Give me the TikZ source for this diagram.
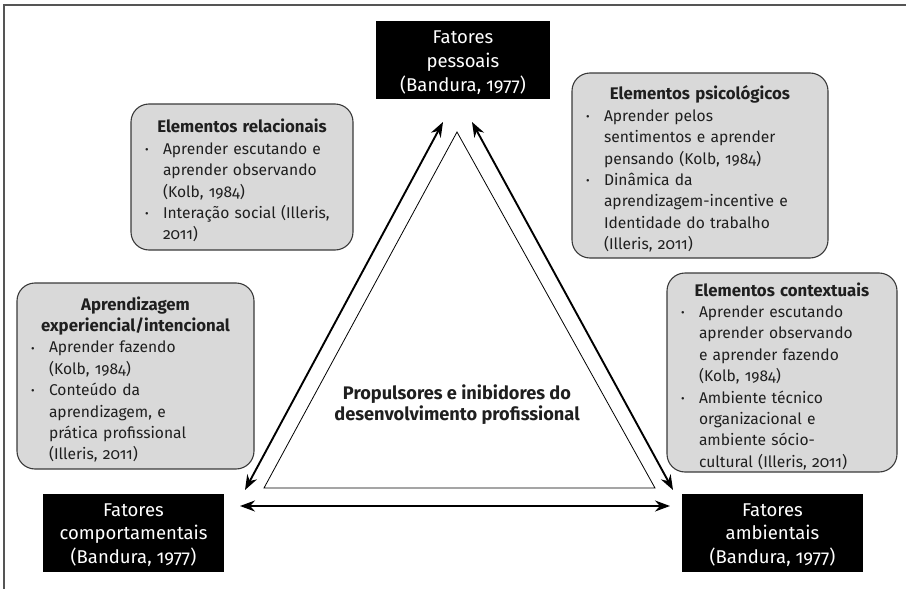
\documentclass[tikz,border=0pt]{standalone}
\usepackage{fontspec}
\setmainfont{Fira Sans}[Numbers=OldStyle]
\usetikzlibrary{arrows.meta}
\definecolor{boxgray}{HTML}{D9D9D9}
\definecolor{edgegray}{HTML}{3A3A3A}
\definecolor{framegray}{HTML}{555555}
\newcommand{\ttl}[1]{{\centering\bfseries\fontsize{16.8}{21}\selectfont\rule{0pt}{21pt}#1\par}}
\newcommand{\bitem}[1]{\par\noindent\hyphenpenalty=10000\rightskip=-40pt\hangindent=18pt\hangafter=1\makebox[18pt][l]{\raisebox{0.1ex}{\scalebox{0.7}{•}}}#1\par}
\newcommand{\bstrut}{\rule{0pt}{18pt}}
\begin{document}
\begin{tikzpicture}[x=1pt,y=-1pt,
  blackbox/.style={fill=black,text=white,minimum height=78pt,inner sep=0pt,align=center,
    font=\fontsize{18.5}{23.7}\selectfont},
  graybox/.style={draw=edgegray,line width=1.1pt,fill=boxgray,rounded corners=18pt,
    inner xsep=14pt,inner ysep=0pt,text=black!88,font=\fontsize{15.6}{21.4}\selectfont},
  tri/.style={line width=0.8pt},
  arr/.style={line width=1.9pt,{Stealth[length=15pt,width=11pt]}-{Stealth[length=15pt,width=11pt]}}]
\useasboundingbox (0,0) rectangle (906,589);
\draw[framegray,line width=2pt] (4,589) -- (4,5) -- (906,5);
% factor boxes
\node[blackbox,minimum width=174pt] (pes) at (463,60) {\bstrut Fatores\\pessoais\\(Bandura, 1977)};
\node[blackbox,minimum width=181pt] (com) at (133.5,532.5) {\bstrut Fatores\\comportamentais\\(Bandura, 1977)};
\node[blackbox,minimum width=181pt] (amb) at (772.5,532.5) {\bstrut Fatores\\ambientais\\(Bandura, 1977)};
% element boxes
\node[graybox,text width=194pt,minimum width=222pt,minimum height=146pt] (rel) at (242,177)
  {\ttl{Elementos relacionais}%
   \bitem{Aprender escutando e\newline aprender observando\newline (Kolb, 1984)}%
   \bitem{Interação social (Illeris,\newline 2011)}};
\node[graybox,text width=228pt,minimum width=256pt,minimum height=185pt] (psi) at (700,165.5)
  {\ttl{Elementos psicológicos}%
   \bitem{Aprender pelos\newline sentimentos e aprender\newline pensando (Kolb, 1984)}%
   \bitem{Dinâmica da\newline aprendizagem-incentive e\newline Identidade do trabalho\newline (Illeris, 2011)}};
\node[graybox,text width=209pt,minimum width=237pt,minimum height=186pt] (exp) at (135.5,376)
  {\ttl{Aprendizagem\\experiencial/intencional}%
   \bitem{Aprender fazendo\newline (Kolb, 1984)}%
   \bitem{Conteúdo da\newline aprendizagem, e\newline prática profissional\newline (Illeris, 2011)}};
\node[graybox,text width=202pt,minimum width=230pt,minimum height=199pt] (ctx) at (782,372.5)
  {\ttl{Elementos contextuais}%
   \bitem{Aprender escutando\newline aprender observando\newline e aprender fazendo\newline (Kolb, 1984)}%
   \bitem{Ambiente técnico\newline organizacional e\newline ambiente sócio-\newline cultural (Illeris, 2011)}};
% triangle
\coordinate (A) at (457,132);
\coordinate (B) at (264,488);
\coordinate (C) at (655,488);
\draw[tri] (A) -- (B) -- (C) -- cycle;
\node[font=\bfseries\fontsize{18.2}{21}\selectfont,align=center,text=black!88] (mid) at (457,405)
  {Propulsores e inibidores do\\desenvolvimento profissional};
% arrows
\coordinate (l1) at (245,490);
\coordinate (l2) at (443,122);
\coordinate (r1) at (472,122);
\coordinate (r2) at (673,490);
\coordinate (b1) at (240,506);
\coordinate (b2) at (670,506);
\draw[arr] (l1) -- (l2);
\draw[arr] (r1) -- (r2);
\draw[arr] (b1) -- (b2);
\end{tikzpicture}
\end{document}
